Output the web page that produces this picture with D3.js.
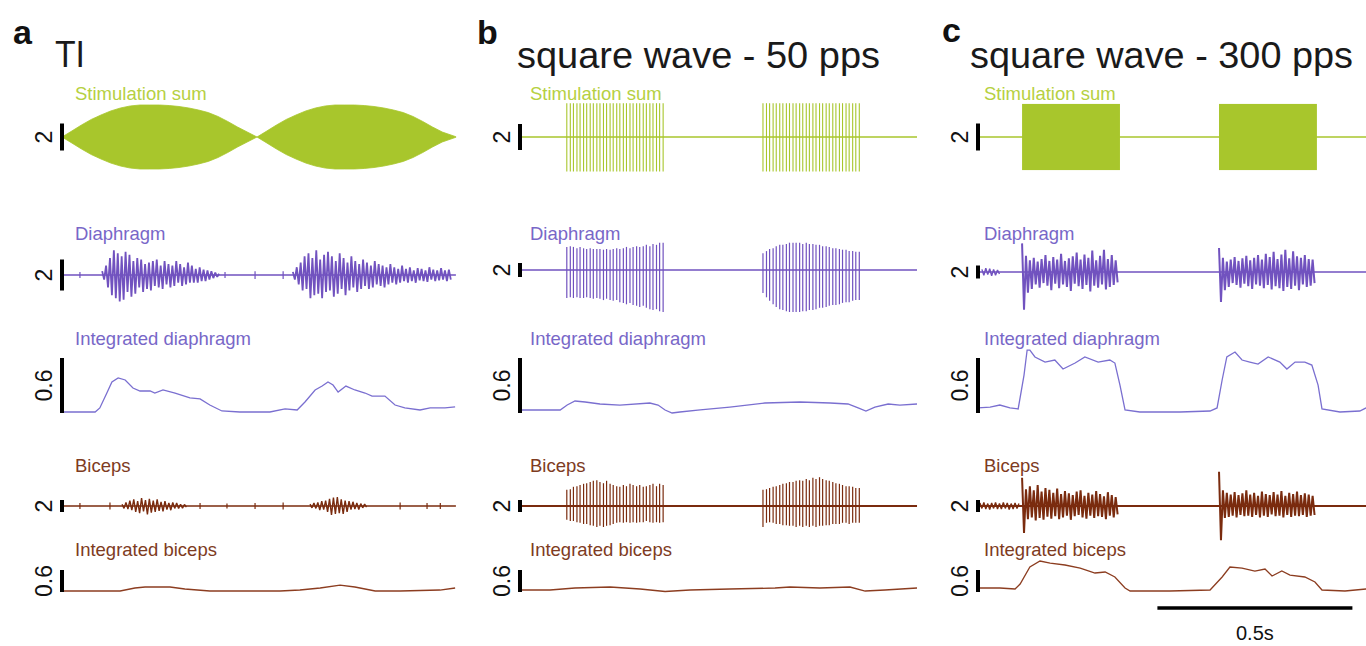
<!DOCTYPE html>
<html>
<head>
<meta charset="utf-8">
<script src="https://cdn.jsdelivr.net/npm/d3@7"></script>
<style>
  body { margin: 0; background: #fff; }
  text { font-family: Arial, "Liberation Sans", Helvetica, sans-serif; }
</style>
</head>
<body>
<div id="fig"></div>
<script>
// ---------------- data (time in s, signal in the units of each scale bar) ----------------
const panelLetters = ['a', 'b', 'c'];
const panelTitles = ['TI', 'square wave - 50 pps', 'square wave - 300 pps'];
const traceNames = ['Stimulation sum', 'Diaphragm', 'Integrated diaphragm', 'Biceps', 'Integrated biceps'];
const barValues = [2, 2, 0.6, 2, 0.6];
const barLabels = ['2', '2', '0.6', '2', '0.6'];
const timeBar = [0.46, 0.5];        // start, length (s) on panel c
const timeBarLabel = '0.5s';
const EMG_DT = 0.005;               // sample step of the raw EMG bursts

// a - TI stimulation envelope
const stimA_t = [0,0.025,0.05,0.075,0.1,0.125,0.15,0.175,0.2,0.225,0.25,0.275,0.3,0.325,0.35,0.375,0.4,0.425,0.45,0.475,
  0.5,0.525,0.55,0.575,0.6,0.625,0.65,0.675,0.7,0.725,0.75,0.775,0.8,0.825,0.85,0.875,0.9,0.925,0.95,0.975,1.01];
const stimA_env = [0,0.44,0.89,1.3,1.63,1.93,2.15,2.3,2.37,2.37,2.37,2.33,2.26,2.15,2.0,1.81,1.52,1.15,0.74,0.37,
  0,0.44,0.89,1.3,1.63,1.93,2.15,2.3,2.37,2.37,2.37,2.33,2.26,2.15,2.0,1.81,1.52,1.15,0.74,0.37,0.02];

// a - diaphragm EMG bursts
const diaA_starts = [0.103, 0.592];
const diaA_b1 = [0.25,-0.3,0.6,-0.8,1.1,-1.3,1.6,-1.5,1.4,-1.7, 1.2,-1.6,1.5,-1.1,1.3,-1.4,0.9,-1.2,1.1,-0.8,
  1.0,-1.1,0.7,-0.9,0.8,-1.0,0.9,-0.7,1.0,-0.8, 0.6,-0.9,0.9,-0.6,0.7,-0.8,0.6,-0.7,0.9,-0.5,
  0.7,-0.7,0.5,-0.6,0.8,-0.5,0.6,-0.5,0.4,-0.5, 0.5,-0.4,0.35,-0.4,0.3,-0.3,0.25,-0.2,0.15,-0.12,0.08];
const diaA_b2 = [0.2,-0.3,0.5,-0.6,0.8,-1.0,1.2,-0.9,1.4,-1.5, 1.1,-1.3,1.6,-1.2,1.0,-1.5,1.3,-1.1,1.5,-1.0,
  1.2,-1.4,0.9,-1.2,1.4,-0.9,1.1,-1.3,0.8,-1.0, 1.2,-0.8,0.9,-1.1,0.7,-0.9,1.0,-0.7,0.8,-0.9,
  0.6,-0.8,0.9,-0.6,0.7,-0.7,0.6,-0.8,0.5,-0.6, 0.7,-0.5,0.5,-0.6,0.4,-0.5,0.6,-0.4,0.4,-0.5,
  0.5,-0.4,0.3,-0.5,0.45,-0.35,0.4,-0.4,0.3,-0.45, 0.5,-0.3,0.35,-0.4,0.3,-0.35,0.45,-0.3,0.3,-0.4,0.35,-0.3];
const diaA_blipT = [0.046, 0.418, 0.495, 0.567];
const diaA_blipV = [0.2, 0.2, 0.25, 0.25];

// a - integrated diaphragm
const idiaA_t = [0,0.085,0.097,0.115,0.128,0.144,0.162,0.182,0.2,0.226,0.238,0.259,0.29,0.328,0.354,0.379,0.41,0.456,0.533,
  0.572,0.603,0.623,0.649,0.667,0.682,0.695,0.708,0.728,0.751,0.777,0.795,0.828,0.854,0.879,0.918,0.944,0.982,1.008];
const idiaA_v = [0.011,0.011,0.055,0.218,0.338,0.382,0.36,0.273,0.24,0.24,0.218,0.251,0.218,0.164,0.153,0.087,0.022,0.011,0.011,
  0.044,0.033,0.12,0.251,0.294,0.338,0.305,0.229,0.294,0.251,0.218,0.185,0.185,0.087,0.055,0.033,0.055,0.055,0.066];

// a - biceps EMG
const bicA_starts = [0.154, 0.636];
const bicA_b1 = [0.3,-0.4,0.6,-0.5,0.9,-0.7,1.1,-1.0,0.8,-1.2, 1.3,-0.9,1.0,-1.4,1.2,-1.1,0.9,-1.0,1.1,-0.8,
  0.7,-0.9,0.8,-0.6,0.5,-0.7,0.6,-0.4,0.5,-0.4, 0.3,-0.35,0.25,-0.2];
const bicA_b2 = [0.3,-0.3,0.5,-0.4,0.6,-0.7,0.8,-0.6,0.9,-1.0, 1.2,-1.5,1.4,-1.3,1.5,-1.2,1.1,-1.3,0.9,-1.0,
  0.8,-0.6,0.7,-0.5,0.5,-0.6,0.4,-0.3,0.3,-0.2];
const bicA_blipT = [0.046, 0.123, 0.354, 0.423, 0.495, 0.567, 0.867, 0.936, 0.97];
const bicA_blipV = [0.5, 0.6, 0.5, 0.4, 0.5, 0.6, 0.6, 0.5, 0.5];

// a - integrated biceps
const ibicA_t = [0,0.149,0.187,0.213,0.251,0.277,0.315,0.379,0.559,0.61,0.662,0.713,0.751,0.803,0.867,0.969,1.008];
const ibicA_v = [0.027,0.027,0.109,0.136,0.136,0.136,0.082,0.027,0.027,0.054,0.109,0.19,0.136,0.027,0.027,0.054,0.109];

// b - 50 pps square wave: pulse times
const pulseB_t = [0.120,0.129,0.137,0.146,0.154,0.163,0.171,0.180,0.188,0.197,0.205,0.214,0.222,0.231,0.239,
  0.248,0.256,0.265,0.273,0.282,0.290,0.299,0.307,0.316,0.324,0.333,0.341,0.350,0.358,0.367,
  0.623,0.632,0.640,0.649,0.657,0.666,0.674,0.683,0.691,0.700,0.708,0.717,0.725,0.734,0.742,
  0.751,0.759,0.768,0.776,0.785,0.793,0.802,0.810,0.819,0.827,0.836,0.844,0.853,0.861,0.870];
const stimB_amp = [2.6, 2.65];      // up, down

const diaB_up = [3.3,3.4,3.3,3.1,3.3,3.1,3.0,3.1,3.0,3.0,3.0,2.9,3.0,2.9,3.0,3.1,3.0,3.1,3.3,3.1,3.3,3.4,3.3,3.4,3.6,3.4,3.7,3.6,3.9,3.9,
  2.4,2.7,3.0,3.1,3.4,3.6,3.6,3.7,3.9,3.9,3.9,3.9,3.7,3.9,3.7,3.7,3.6,3.6,3.4,3.4,3.3,3.1,3.1,3.0,2.9,2.9,2.7,2.7,2.6,2.6];
const diaB_down = [4.0,3.9,4.0,3.9,4.0,4.0,3.9,4.0,4.1,4.0,4.1,4.3,4.1,4.3,4.4,4.3,4.6,4.7,4.9,4.7,5.0,5.1,5.3,5.1,5.4,5.6,5.7,5.6,5.9,6.0,
  3.3,3.9,4.4,4.9,5.3,5.6,5.7,5.9,6.0,6.0,6.0,6.0,5.9,5.9,5.7,5.7,5.6,5.4,5.4,5.3,5.1,5.0,5.0,4.9,4.7,4.6,4.6,4.4,4.3,4.3];

const idiaB_t = [0,0.103,0.121,0.141,0.167,0.205,0.256,0.333,0.354,0.372,0.39,0.41,0.462,0.538,0.628,0.718,0.795,0.841,0.867,0.887,0.91,0.944,0.974,1.018];
const idiaB_v = [0.033,0.033,0.087,0.131,0.12,0.098,0.087,0.109,0.087,0.033,0,0.011,0.033,0.065,0.109,0.12,0.109,0.098,0.055,0.022,0.065,0.098,0.087,0.098];

const bicB_up = [2.7,2.8,3.2,3.3,3.5,3.7,3.8,4.0,4.2,4.3,4.0,3.8,4.2,3.7,3.5,3.3,3.2,3.5,3.3,3.7,3.5,3.3,3.5,3.2,3.3,3.5,3.7,3.3,3.7,3.5,
  2.7,2.8,3.0,3.2,3.3,3.5,3.7,3.8,4.0,4.0,4.2,4.3,4.2,4.5,4.3,4.7,4.5,4.8,4.5,4.3,4.2,4.0,3.8,3.7,3.5,3.3,3.3,3.2,3.0,3.0];
const bicB_down = [2.3,2.5,2.5,2.7,2.8,3.0,3.0,3.2,3.3,3.5,3.3,3.5,3.3,3.2,3.0,2.8,2.7,2.8,2.7,2.8,2.7,2.8,2.7,2.7,2.5,2.7,2.8,2.7,2.8,2.7,
  3.5,2.8,2.7,2.8,3.0,3.0,3.2,3.2,3.3,3.3,3.5,3.3,3.5,3.3,3.5,3.3,3.5,3.3,3.3,3.2,3.2,3.0,3.0,3.0,2.8,2.8,3.0,2.8,2.8,2.8];

const ibicB_t = [0,0.077,0.141,0.231,0.308,0.372,0.436,0.538,0.654,0.692,0.769,0.846,0.885,0.936,1.018];
const ibicB_v = [0.054,0.054,0.109,0.136,0.082,0.014,0.054,0.082,0.109,0.136,0.109,0.136,0.027,0.054,0.109];

// c - 300 pps square wave: bursts
const stimC_on = [0.113, 0.618];
const stimC_off = [0.364, 0.869];
const stimC_amp = 2.45;

const diaC_starts = [0.113, 0.618];
const diaC_b1 = [4.4,-5.8,2.5,-3.2,1.8,-2.6,2.2,-1.9,1.6,-2.4, 2.0,-1.7,2.6,-2.1,1.7,-2.8,2.3,-1.8,1.9,-2.5,
  2.8,-1.9,1.7,-2.3,2.1,-2.9,2.4,-1.8,3.0,-2.2, 1.9,-2.6,2.7,-2.0,2.2,-3.0,3.3,-2.1,1.8,-2.4,
  2.5,-1.9,3.4,-2.7,2.0,-2.3,2.6,-2.0,1.8,-1.6];
const diaC_b2 = [3.7,-4.6,2.2,-2.8,1.6,-2.3,1.9,-1.7,2.3,-2.0, 1.7,-2.4,2.1,-1.8,2.5,-2.2,1.8,-2.6,2.2,-1.9,
  2.6,-2.1,1.9,-2.5,2.8,-2.0,2.3,-2.7,3.1,-2.2, 2.0,-2.5,2.7,-2.9,3.4,-2.3,2.1,-2.6,3.2,-2.1,
  2.4,-2.8,2.2,-1.9,2.6,-2.3,2.0,-2.1,1.9,-1.7];
const diaC_pre = [0.4,-0.5,0.6,-0.4,0.5,-0.6,0.4,-0.5,0.3,-0.3];

const idiaC_t = [0,0.031,0.056,0.082,0.103,0.118,0.126,0.133,0.146,0.172,0.197,0.218,0.249,0.274,0.308,0.338,0.351,0.364,0.377,0.415,
  0.518,0.595,0.613,0.626,0.638,0.659,0.677,0.697,0.718,0.744,0.774,0.792,0.813,0.838,0.856,0.872,0.882,0.928,0.979,0.995];
const idiaC_v = [0.055,0.065,0.087,0.055,0.044,0.414,0.687,0.687,0.611,0.556,0.578,0.48,0.545,0.611,0.556,0.578,0.545,0.305,0.033,0.011,
  0.011,0.022,0.055,0.36,0.611,0.665,0.578,0.556,0.534,0.611,0.556,0.48,0.556,0.556,0.523,0.305,0.044,0.011,0.022,0.055];

const bicC_starts = [0.113, 0.618];
const bicC_b1 = [4.7,-4.5,2.8,-2.2,3.3,-1.9,2.6,-2.4,3.5,-2.0, 2.4,-2.3,3.0,-1.8,2.7,-2.1,2.2,-1.7,2.9,-2.2,
  2.0,-1.9,2.5,-1.6,2.1,-2.3,1.8,-1.7,2.4,-1.5, 2.6,-1.9,1.7,-2.1,2.2,-1.6,1.9,-2.0,2.5,-1.7,
  2.0,-1.8,1.6,-2.2,2.3,-1.6,1.8,-1.9,1.5,-1.4];
const bicC_b2 = [5.7,-5.7,2.6,-2.0,2.2,-1.8,1.9,-1.6,2.3,-1.9, 1.8,-1.5,2.1,-1.7,2.6,-1.6,1.9,-1.8,2.2,-1.5,
  1.7,-1.9,2.4,-1.6,2.0,-1.8,1.8,-1.4,2.3,-1.7, 1.9,-1.6,2.5,-1.9,1.7,-1.5,2.2,-1.8,2.0,-1.6,
  2.4,-1.7,1.8,-1.5,2.1,-1.8,1.9,-1.6,1.7,-1.5];
const bicC_pre = [0.5,-0.4,0.6,-0.5,0.4,-0.6,0.5,-0.4,0.6,-0.5,0.4,-0.5,0.6,-0.4,0.5,-0.6,0.4,-0.5,0.5,-0.4,0.4];

const ibicC_t = [0,0.056,0.095,0.108,0.133,0.159,0.185,0.223,0.262,0.3,0.326,0.351,0.377,0.39,0.492,0.595,0.626,0.646,0.677,
  0.71,0.736,0.754,0.779,0.8,0.838,0.864,0.882,0.941,0.995];
const ibicC_v = [0.109,0.109,0.082,0.218,0.681,0.845,0.79,0.736,0.654,0.518,0.545,0.409,0.109,0.027,0.027,0.054,0.409,0.681,0.654,
  0.572,0.627,0.436,0.572,0.463,0.409,0.272,0.054,0.027,0.082];

// ---------------- layout ----------------
const W = 1366, H = 646;
const pxPerSec = 390;
const tEnd = [1.01, 1.018, 1.02];
const panelX = [62, 520, 978];
const letterPos = [[13, 44], [477, 44], [942, 42]];
const titlePos = [[55, 67, 30], [517, 68, 363], [970, 68, 383]];
const labelX = [75, 530, 984];
const labelY = [100, 240, 345, 472, 556];
const rowBase = [[137, 137, 137], [275, 270, 272], [413, 413, 413], [506, 506, 506], [592, 592, 592]];
const rowBar = [[27, 26, 27], [31, 14, 13], [55, 55, 55], [12, 12, 12], [22, 22, 22]];
const bipolar = [true, true, false, true, false];

const colStim = '#a8c62c', colStimText = '#b6d042';
const colDia = '#7152bf', colDiaInt = '#7a6fd0', colDiaText = '#7867c8';
const colBic = '#7a2b0e', colBicInt = '#8c3d20', colBicText = '#7e3b22';
const traceText = [colStimText, colDiaText, colDiaText, colBicText, colBicText];

const svg = d3.select('#fig').append('svg')
  .attr('width', W).attr('height', H)
  .style('display', 'block');

// scales for one panel / row
function xFor(p) {
  return d3.scaleLinear().domain([0, 1]).range([panelX[p], panelX[p] + pxPerSec]);
}
function yFor(r, p) {
  const base = rowBase[r][p], bar = rowBar[r][p], v = barValues[r];
  if (bipolar[r]) return d3.scaleLinear().domain([-v / 2, v / 2]).range([base + bar / 2, base - bar / 2]);
  return d3.scaleLinear().domain([0, v]).range([base, base - bar]);
}

function baseline(g, x, y, t1, color, w) {
  g.append('line')
    .attr('x1', x(0)).attr('x2', x(t1)).attr('y1', y(0)).attr('y2', y(0))
    .attr('stroke', color).attr('stroke-width', w);
}
function bursts(g, x, y, starts, arrs, color, w) {
  arrs.forEach((vals, k) => {
    const pts = vals.map((v, i) => [starts[k] + i * EMG_DT, v]);
    g.append('path')
      .attr('d', d3.line().x(d => x(d[0])).y(d => y(d[1]))(pts))
      .attr('fill', 'none').attr('stroke', color).attr('stroke-width', w)
      .attr('stroke-linejoin', 'bevel');
  });
}
function spikes(g, x, y, ts, up, down, color, w) {
  g.selectAll(null).data(ts).enter().append('line')
    .attr('x1', d => x(d)).attr('x2', d => x(d))
    .attr('y1', (d, i) => y(up[i])).attr('y2', (d, i) => y(-down[i]))
    .attr('stroke', color).attr('stroke-width', w);
}
function integ(g, x, y, ts, vs, color) {
  g.append('path')
    .attr('d', d3.line().x((d, i) => x(ts[i])).y(d => y(d))(vs))
    .attr('fill', 'none').attr('stroke', color).attr('stroke-width', 1.3);
}

for (let p = 0; p < 3; p++) {
  const g = svg.append('g').attr('class', 'panel-' + panelLetters[p]);
  const x = xFor(p);
  const ys = traceNames.map((n, r) => yFor(r, p));

  g.append('text').attr('x', letterPos[p][0]).attr('y', letterPos[p][1])
    .attr('font-size', 34).attr('font-weight', 'bold').attr('fill', '#111')
    .text(panelLetters[p]);
  g.append('text').attr('x', titlePos[p][0]).attr('y', titlePos[p][1])
    .attr('font-size', 36).attr('fill', '#1a1a1a')
    .attr('textLength', titlePos[p][2]).attr('lengthAdjust', 'spacingAndGlyphs')
    .text(panelTitles[p]);

  traceNames.forEach((name, r) => {
    g.append('text').attr('x', labelX[p]).attr('y', labelY[r])
      .attr('font-size', 18.5).attr('fill', traceText[r]).text(name);
  });

  // traces
  if (p === 0) {
    g.append('path')
      .attr('d', d3.area().x((d, i) => x(stimA_t[i])).y0(d => ys[0](-d)).y1(d => ys[0](d))(stimA_env))
      .attr('fill', colStim).attr('stroke', colStim).attr('stroke-width', 0.8);

    baseline(g, x, ys[1], tEnd[0], colDia, 1.3);
    spikes(g, x, ys[1], diaA_blipT, diaA_blipV, diaA_blipV, colDia, 1.2);
    bursts(g, x, ys[1], diaA_starts, [diaA_b1, diaA_b2], colDia, 1.8);

    integ(g, x, ys[2], idiaA_t, idiaA_v, colDiaInt);

    baseline(g, x, ys[3], tEnd[0], colBic, 1.6);
    spikes(g, x, ys[3], bicA_blipT, bicA_blipV, bicA_blipV, colBic, 1.2);
    bursts(g, x, ys[3], bicA_starts, [bicA_b1, bicA_b2], colBic, 1.4);

    integ(g, x, ys[4], ibicA_t, ibicA_v, colBicInt);
  } else if (p === 1) {
    baseline(g, x, ys[0], tEnd[1], colStim, 1.3);
    spikes(g, x, ys[0], pulseB_t, pulseB_t.map(() => stimB_amp[0]), pulseB_t.map(() => stimB_amp[1]), colStim, 1.1);

    baseline(g, x, ys[1], tEnd[1], colDia, 1.6);
    spikes(g, x, ys[1], pulseB_t, diaB_up, diaB_down, colDia, 1.2);

    integ(g, x, ys[2], idiaB_t, idiaB_v, colDiaInt);

    baseline(g, x, ys[3], tEnd[1], colBic, 2);
    spikes(g, x, ys[3], pulseB_t, bicB_up, bicB_down, colBic, 1.2);

    integ(g, x, ys[4], ibicB_t, ibicB_v, colBicInt);
  } else {
    baseline(g, x, ys[0], tEnd[2], colStim, 1.3);
    g.selectAll(null).data(stimC_on).enter().append('rect')
      .attr('x', d => x(d)).attr('width', (d, i) => x(stimC_off[i]) - x(d))
      .attr('y', ys[0](stimC_amp)).attr('height', ys[0](-stimC_amp) - ys[0](stimC_amp))
      .attr('fill', colStim);

    baseline(g, x, ys[1], tEnd[2], colDia, 1.4);
    bursts(g, x, ys[1], [0.01], [diaC_pre], colDia, 1.4);
    bursts(g, x, ys[1], diaC_starts, [diaC_b1, diaC_b2], colDia, 2);

    integ(g, x, ys[2], idiaC_t, idiaC_v, colDiaInt);

    baseline(g, x, ys[3], tEnd[2], colBic, 1.8);
    bursts(g, x, ys[3], [0.005], [bicC_pre], colBic, 1.4);
    bursts(g, x, ys[3], bicC_starts, [bicC_b1, bicC_b2], colBic, 2);

    integ(g, x, ys[4], ibicC_t, ibicC_v, colBicInt);

    // time scale bar
    g.append('line')
      .attr('x1', x(timeBar[0])).attr('x2', x(timeBar[0] + timeBar[1]))
      .attr('y1', 608).attr('y2', 608)
      .attr('stroke', '#000').attr('stroke-width', 3.5);
    g.append('text')
      .attr('x', x(timeBar[0] + timeBar[1] / 2)).attr('y', 640)
      .attr('text-anchor', 'middle').attr('font-size', 20).attr('fill', '#111')
      .text(timeBarLabel);
  }

  // vertical scale bars with their values
  traceNames.forEach((name, r) => {
    const y = ys[r];
    const d = y.domain();
    g.append('line')
      .attr('x1', panelX[p]).attr('x2', panelX[p])
      .attr('y1', y(d[0])).attr('y2', y(d[1]))
      .attr('stroke', '#000').attr('stroke-width', 4);
    const mid = (y(d[0]) + y(d[1])) / 2;
    g.append('text')
      .attr('transform', `translate(${panelX[p] - 10},${mid}) rotate(-90)`)
      .attr('text-anchor', 'middle').attr('font-size', 23).attr('fill', '#111')
      .text(barLabels[r]);
  });
}
</script>
</body>
</html>
